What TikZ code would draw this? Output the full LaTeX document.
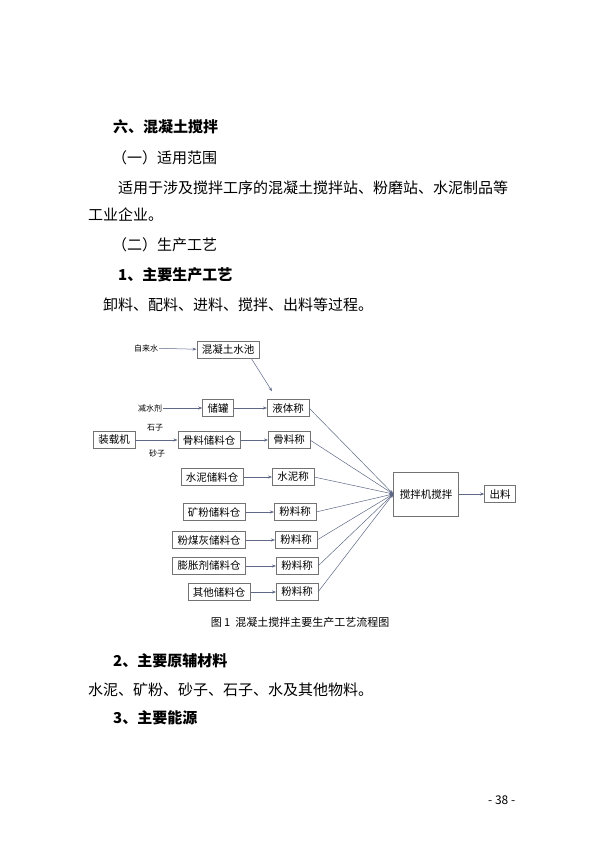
\documentclass[tikz,border=0pt]{standalone}
\usepackage{fontspec}
\setmainfont{Noto Sans CJK SC}
\usetikzlibrary{arrows.meta, positioning}
\definecolor{linegray}{RGB}{95,105,135}

\begin{document}
\begin{tikzpicture}[
  x=1pt, y=-1pt,
  body/.style={anchor=west, inner sep=0pt, font=\fontsize{15}{18}\selectfont},
  head/.style={body, font=\fontsize{15}{18}\selectfont\bfseries},
  box/.style={rectangle, draw=black!55, line width=0.5pt, inner xsep=5pt, minimum height=17pt, font=\fontsize{10.5}{12}\selectfont},
  lbl/.style={inner sep=1pt, font=\fontsize{8}{9}\selectfont},
  arrow/.style={-{Stealth[length=4pt, width=3pt]}, draw=linegray, line width=0.5pt}
]
\useasboundingbox (0,0) rectangle (600,848);

% page text
\node[head] (title) at (113,127) {六、混凝土搅拌};
\node[body] (scope) at (112,158) {（一）适用范围};
\node[body] (para1) at (118,188) {适用于涉及搅拌工序的混凝土搅拌站、粉磨站、水泥制品等};
\node[body] (para2) at (88,215) {工业企业。};
\node[body] (proc) at (112,245) {（二）生产工艺};
\node[head] (main) at (118,275) {1、主要生产工艺};
\node[body] (steps) at (103,305) {卸料、配料、进料、搅拌、出料等过程。};

% flow chart
\node[lbl] (tap) at (146,348) {自来水};
\node[box] (pool) at (228,350) {混凝土水池};
\node[lbl] (agent) at (150,408) {减水剂};
\node[box] (tank) at (218,408) {储罐};
\node[box] (liq) at (288,408) {液体称};
\node[box] (loader) at (114,440) {装载机};
\node[lbl] (stone) at (155,428) {石子};
\node[lbl] (sand) at (157,453) {砂子};
\node[box] (aggbin) at (209,440) {骨料储料仓};
\node[box] (aggw) at (289,440) {骨料称};
\node[box] (cembin) at (212,477) {水泥储料仓};
\node[box] (cemw) at (293,477) {水泥称};
\node[box] (slagbin) at (214,512) {矿粉储料仓};
\node[box] (slagw) at (295,512) {粉料称};
\node[box] (ashbin) at (209,540) {粉煤灰储料仓};
\node[box] (ashw) at (296,540) {粉料称};
\node[box] (expbin) at (209,566) {膨胀剂储料仓};
\node[box] (expw) at (297,566) {粉料称};
\node[box] (othbin) at (219,592) {其他储料仓};
\node[box] (othw) at (297,592) {粉料称};
\node[box, minimum width=65pt, minimum height=44pt] (mix) at (426,494) {搅拌机搅拌};
\node[box] (out) at (500,494) {出料};

\draw[arrow] (tap) -- (pool);
\draw[arrow] ([xshift=-8pt]pool.south east) -- ([xshift=5pt,yshift=8pt]liq.north west);
\draw[arrow] (agent) -- (tank);
\draw[arrow] (tank) -- (liq);
\draw[arrow] (loader) -- (aggbin);
\draw[arrow] (aggbin) -- (aggw);
\draw[arrow] (cembin) -- (cemw);
\draw[arrow] (slagbin) -- (slagw);
\draw[arrow] (ashbin) -- (ashw);
\draw[arrow] (expbin) -- (expw);
\draw[arrow] (othbin) -- (othw);
\foreach \w in {liq, aggw, cemw, slagw, ashw, expw, othw}
  \draw[arrow] (\w.east) -- (mix.west);
\draw[arrow] (mix) -- (out);

\node[font=\fontsize{11}{13}\selectfont] (caption) at (300,622) {图 1\ \ 混凝土搅拌主要生产工艺流程图};

% more page text
\node[head] (mat) at (113,661) {2、主要原辅材料};
\node[body] (matlist) at (88,690) {水泥、矿粉、砂子、石子、水及其他物料。};
\node[head] (energy) at (113,718) {3、主要能源};
\node[body, font=\fontsize{12}{14}\selectfont] (page) at (488,800) {- 38 -};
\end{tikzpicture}
\end{document}
